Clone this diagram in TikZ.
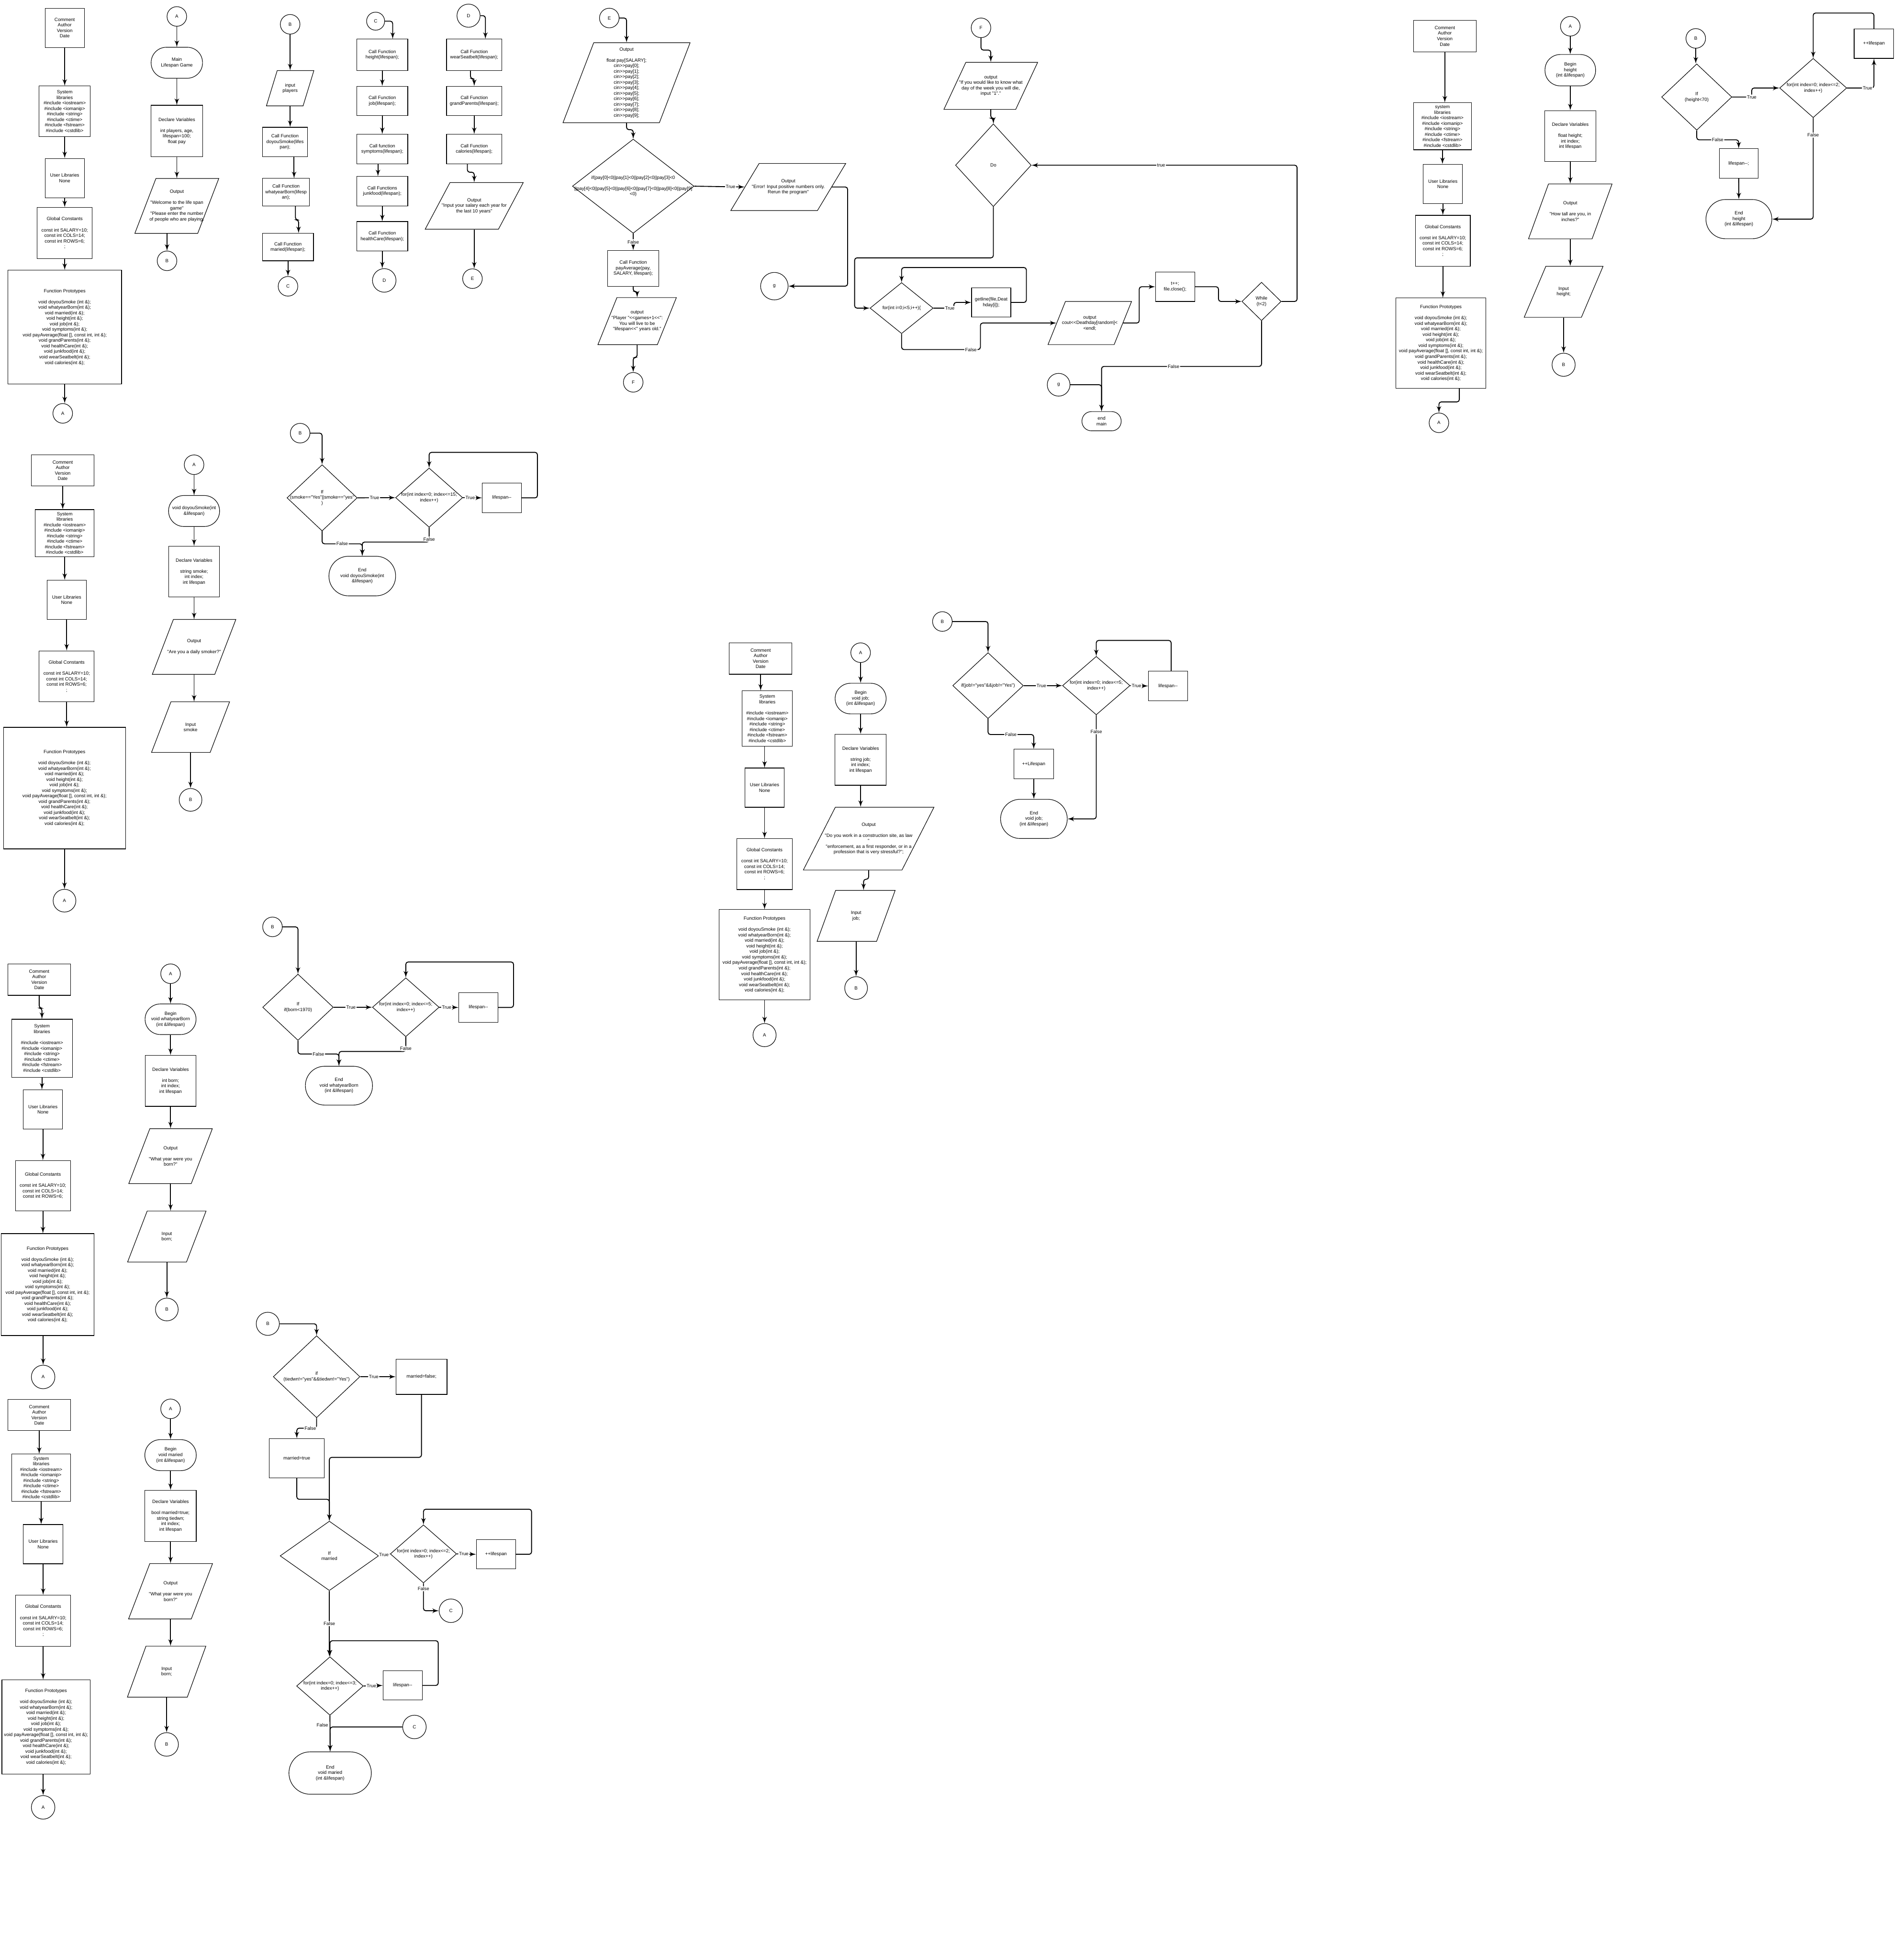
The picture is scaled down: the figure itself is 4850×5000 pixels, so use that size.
\documentclass[tikz,border=0pt]{standalone}
\usepackage{fontspec}
\newfontfamily\chartfont{Liberation Sans}
\usepackage{tikz}
\usetikzlibrary{shapes,arrows,calc}

\begin{document}
\begin{tikzpicture}[x=0.01cm, y=-0.01cm, font=\chartfont\fontsize{3.4}{4}\selectfont]
\tikzstyle{block} = [rectangle, draw, line width=0.4pt, align=center, inner sep=1pt]
\tikzstyle{term} = [rectangle, draw, line width=0.4pt, align=center, inner sep=1pt, rounded corners=0.39cm]
\tikzstyle{conn} = [circle, draw, line width=0.4pt, inner sep=0pt, minimum size=0.5cm]
\tikzstyle{io} = [trapezium, draw, line width=0.4pt, inner sep=0pt, trapezium stretches body]
\tikzstyle{decision} = [diamond, draw, line width=0.4pt, inner sep=0pt]
\tikzstyle{txt} = [align=center]
\tikzstyle{line} = [draw, -latex', line width=0.65pt, rounded corners=0.06cm]
\tikzstyle{tag} = [fill=white, inner sep=0.6pt]

\path [use as bounding box, fill=white] (0,0) rectangle (4850,5000);

\node [block, minimum width=1cm, minimum height=1cm] (cm1) at (165,71) {Comment\\Author\\Version\\Date};
\node [block, minimum width=1.3cm, minimum height=1.29cm, node distance=2.13cm, below of=cm1] (sys1) {System\\libraries\\\#include <iostream>\\\#include <iomanip>\\\#include <string>\\\#include <ctime>\\\#include <fstream>\\\#include <cstdlib>};
\node [block, minimum width=1cm, minimum height=1cm, node distance=1.7cm, below of=sys1] (usr1) {User Libraries\\None};
\node [block, minimum width=1.4cm, minimum height=1.3cm, node distance=1.4cm, below of=usr1] (gc1) {Global Constants\\[4pt]const int SALARY=10;\\const int COLS=14;\\const int ROWS=6;\\;};
\node [block, minimum width=2.9cm, minimum height=2.9cm, node distance=2.4cm, below of=gc1] (fp1) {Function Prototypes\\[4pt]void doyouSmoke (int \&);\\void whatyearBorn(int \&);\\void married(int \&);\\void height(int \&);\\void job(int \&);\\void symptoms(int \&);\\void payAverage(float [], const int, int \&);\\void grandParents(int \&);\\void healthCare(int \&);\\void junkfood(int \&);\\void wearSeatbelt(int \&);\\void calories(int \&);};
\node [conn, node distance=2.2cm, below of=fp1, xshift=-0.05cm] (a1) {A};

\node [conn] (a1b) at (451,42) {A};
\node [term, minimum width=1.31cm, minimum height=0.79cm, node distance=1.18cm, below of=a1b] (main1) {Main\\Lifespan Game};
\node [block, minimum width=1.31cm, minimum height=1.31cm, node distance=1.74cm, below of=main1] (dv1) {Declare Variables\\[4pt]int players, age,\\lifespan=100;\\float pay};
\node [io, trapezium left angle=69, trapezium right angle=111, minimum width=2.14cm, inner ysep=0.7cm, node distance=1.91cm, below of=dv1, label={[txt]center:{Output\\[4pt]"Welcome to the life span\\game"\\"Please enter the number\\of people who are playing.}}] (out1) {};
\node [conn, node distance=1.4cm, below of=out1, xshift=-0.25cm] (b1) {B};

\path [line] (cm1) -- (sys1);
\path [line] (sys1) -- (usr1);
\path [line] (usr1) -- (gc1);
\path [line] (gc1) -- (fp1);
\path [line] (fp1.south) -- (fp1.south |- a1.north);
\path [line] (a1b) -- (main1);
\path [line] (main1) -- (dv1);
\path [line] (dv1) -- (out1);
\path [line] (b1 |- out1.south) -- (b1);

\node [conn] (b2) at (740,62) {B};
\node [io, trapezium left angle=73, trapezium right angle=107, minimum width=1.21cm, inner ysep=0.45cm, node distance=1.63cm, below of=b2, label={[txt]center:{input\\players}}] (inp2) {};
\node [block, minimum width=1.15cm, minimum height=0.75cm, node distance=1.37cm, below of=inp2, xshift=-0.13cm] (sm2) {Call Function\\doyouSmoke(lifes\\pan);};
\node [block, minimum width=1.2cm, minimum height=0.7cm, node distance=1.28cm, below of=sm2, xshift=0.025cm] (wy2) {Call Function\\whatyearBorn(lifesp\\an);};
\node [block, minimum width=1.3cm, minimum height=0.7cm, node distance=1.4cm, below of=wy2, xshift=0.05cm] (mar2) {Call Function\\maried(lifespan);};
\node [conn, node distance=1cm, below of=mar2] (c2) {C};

\path [line] (b2) -- (inp2);
\path [line] (inp2) -- (inp2 |- sm2.north);
\path [line] ([xshift=0.23cm]sm2.south) -- ([xshift=0.23cm]sm2.south |- wy2.north);
\path [line] ([xshift=0.24cm]wy2.south) -- ++(0,35) -| ([xshift=0.27cm]mar2.north);
\path [line] (mar2) -- (c2);

\node [conn, minimum size=0.46cm] (c2b) at (958,54) {C};
\node [block, minimum width=1.3cm, minimum height=0.8cm] (ht2) at (975,140) {Call Function\\height(lifespan);};
\node [block, minimum width=1.3cm, minimum height=0.75cm, node distance=1.175cm, below of=ht2] (job2) {Call Function\\job(lifespan);};
\node [block, minimum width=1.3cm, minimum height=0.75cm, node distance=1.225cm, below of=job2] (sym2) {Call function\\symptoms(lifespan);};
\node [block, minimum width=1.3cm, minimum height=0.75cm, node distance=1.075cm, below of=sym2] (jf2) {Call Functions\\junkfood(lifespan);};
\node [block, minimum width=1.3cm, minimum height=0.75cm, node distance=1.15cm, below of=jf2] (hc2) {Call Function\\healthCare(lifespan);};
\node [conn, minimum size=0.6cm, node distance=1.125cm, below of=hc2, xshift=0.05cm] (d2) {D};

\path [line] (c2b.east) -| ([xshift=0.265cm]ht2.north);
\path [line] (ht2) -- (job2);
\path [line] (job2) -- (sym2);
\path [line] ([xshift=-0.11cm]sym2.south) -- ([xshift=-0.11cm]sym2.south |- jf2.north);
\path [line] (jf2) -- (hc2);
\path [line] (hc2) -- (hc2 |- d2.north);

\node [conn, minimum size=0.59cm] (d2b) at (1195,40) {D};
\node [block, minimum width=1.41cm, minimum height=0.8cm] (ws2) at (1209.5,140) {Call Function\\wearSeatbelt(lifespan);};
\node [block, minimum width=1.41cm, minimum height=0.75cm, node distance=1.175cm, below of=ws2] (gp2) {Call Function\\grandParents(lifespan);};
\node [block, minimum width=1.41cm, minimum height=0.75cm, node distance=1.225cm, below of=gp2] (cal2) {Call Function\\calories(lifespan);};
\node [io, trapezium left angle=62, trapezium right angle=118, minimum width=2.5cm, inner ysep=0.595cm, node distance=1.45cm, below of=cal2, label={[txt]center:{Output\\"Input your salary each year for\\the last 10 years"}}] (out2) {};
\node [conn, node distance=1.855cm, below of=out2, xshift=-0.045cm] (e2) {E};

\path [line] (d2b.east) -| ([xshift=0.285cm]ws2.north);
\path [line] ([xshift=-0.095cm]ws2.south) -- ++(0,20) -| (gp2.north);
\path [line] (gp2) -- (cal2);
\path [line] ([xshift=-0.175cm]cal2.south) -- ++(0,21) -| (out2.north);
\path [line] (out2) -- (out2 |- e2.north);

\node [conn] (e3) at (1554,46) {E};
\node [io, trapezium left angle=69, trapezium right angle=111, minimum width=3.24cm, inner ysep=1.02cm, label={[txt]center:{Output\\[4pt]float pay[SALARY];\\cin>>pay[0];\\cin>>pay[1];\\cin>>pay[2];\\cin>>pay[3];\\cin>>pay[4];\\cin>>pay[5];\\cin>>pay[6];\\cin>>pay[7];\\cin>>pay[8];\\cin>>pay[9];}}] (pay3) at (1598,211) {};
\node [decision, minimum width=3.1cm, minimum height=2.4cm, label={[txt]center:{if(pay[0]<0||pay[1]<0||pay[2]<0||pay[3]<0\\[4pt]||pay[4]<0||pay[5]<0||pay[6]<0||pay[7]<0||pay[8]<0||pay[9]\\<0)}}] (ifp3) at (1615,475) {};
\node [io, trapezium left angle=59, trapezium right angle=121, minimum width=2.93cm, inner ysep=0.6cm, label={[txt]center:{Output\\"Error! Input positive numbers only.\\Rerun the program"}}] (err3) at (2010.5,477) {};
\node [conn, minimum size=0.7cm] (g3) at (1975,730) {g};
\node [block, minimum width=1.3cm, minimum height=0.91cm, node distance=2.095cm, below of=ifp3] (pa3) {Call Function\\payAverage(pay,\\SALARY, lifespan);};
\node [io, trapezium left angle=68, trapezium right angle=112, minimum width=2cm, inner ysep=0.6cm, node distance=1.345cm, below of=pa3, xshift=0.1cm, label={[txt]center:{output\\"Player "<<games+1<<":\\You will live to be\\"lifespan<<" years old."}}] (pl3) {};
\node [conn, node distance=1.56cm, below of=pl3, xshift=-0.1cm] (f3) {F};

\path [line] (e3.east) -| (pay3.north);
\path [line] (pay3.south) -- ++(0,17) -| (ifp3.north);
\path [line] (ifp3.east) -- node [tag, pos=0.72] {True} (err3.west);
\path [line] (err3.east) -- ++(40,0) |- (g3.east);
\path [line] (ifp3.south) -- node [tag] {False} (pa3.north);
\path [line] (pa3.south) -- ++(0,13) -| (pl3.north);
\path [line] (pl3.south) -- ++(0,32) -| (f3.north);

\node [conn] (f4) at (2502,71) {F};
\node [io, trapezium left angle=65, trapezium right angle=115, minimum width=2.39cm, inner ysep=0.6cm, label={[txt]center:{output\\"If you would like to know what\\day of the week you will die,\\input "1"."}}] (ow4) at (2527,219) {};
\node [decision, minimum width=1.93cm, minimum height=2.11cm, label={[txt]center:{Do}}] (do4) at (2533.5,421.5) {};
\node [decision, minimum width=1.61cm, minimum height=1.3cm, label={[txt]center:{for(int i=0;i<5;i++)\{}}] (for4) at (2299.5,786) {};
\node [block, minimum width=1cm, minimum height=0.75cm] (gl4) at (2528,771.5) {getline(file,Deat\\hday[i]);};
\node [io, trapezium left angle=68, trapezium right angle=112, minimum width=2.13cm, inner ysep=0.55cm, label={[txt]center:{output\\cout<<Deathday[random]<\\<endl;}}] (co4) at (2779.5,824) {};
\node [block, minimum width=1cm, minimum height=0.75cm] (tp4) at (2997,731.5) {t++;\\file.close();};
\node [decision, minimum width=1cm, minimum height=0.98cm, label={[txt]center:{While\\(t<2)}}] (wh4) at (3217.5,769) {};
\node [conn, minimum size=0.58cm] (g4) at (2700,981.5) {g};
\node [term, minimum width=1cm, minimum height=0.49cm, rounded corners=0.24cm] (em4) at (2809.5,1074.5) {end\\main};

\path [line] (f4.south) -- ++(0,31) -| (ow4.north);
\path [line] (ow4.south) -- ++(0,22) -| (do4.north);
\path [line] (do4.south) -- ++(0,130) -| ([xshift=-0.385cm]for4.west) -- (for4.west);
\path [line] (for4.east) -- node [tag, pos=0.8] {True} ++(52,0) |- (gl4.west);
\path [line] (gl4.east) -- ++(39,0) -- ++(0,-89) -| (for4.north);
\path [line] (for4.south) |- node [tag, pos=0.94] {False} ++(201,40) |- (co4.west);
\path [line] (co4.east) -- ++(41,0) |- (tp4.west);
\path [line] (tp4.east) -- ++(60,0) |- (wh4.west);
\path [line] (wh4.east) -- ++(40,0) |- node [tag, pos=0.756] {true} (do4.east);
\path [line] (wh4.south) -- ++(0,116) -| node [tag, pos=0.275] {False} (em4.north);
\path [line] (g4.east) -| (em4.north);

\node [block, minimum width=1.6cm, minimum height=0.8cm] (cm5) at (3685,92) {Comment\\Author\\Version\\Date};
\node [block, minimum width=1.48cm, minimum height=1.2cm, node distance=2.3cm, below of=cm5, xshift=-0.06cm] (sys5) {system\\libraries\\\#include <iostream>\\\#include <iomanip>\\\#include <string>\\\#include <ctime>\\\#include <fstream>\\\#include <cstdlib>};
\node [block, minimum width=1cm, minimum height=1cm, node distance=1.47cm, below of=sys5, xshift=0.01cm] (usr5) {User Libraries\\None};
\node [block, minimum width=1.4cm, minimum height=1.3cm, node distance=1.45cm, below of=usr5] (gc5) {Global Constants\\[4pt]const int SALARY=10;\\const int COLS=14;\\const int ROWS=6;\\;};
\node [block, minimum width=2.3cm, minimum height=2.3cm, node distance=2.61cm, below of=gc5, xshift=-0.05cm] (fp5) {Function Prototypes\\[4pt]void doyouSmoke (int \&);\\void whatyearBorn(int \&);\\void married(int \&);\\void height(int \&);\\void job(int \&);\\void symptoms(int \&);\\void payAverage(float [], const int, int \&);\\void grandParents(int \&);\\void healthCare(int \&);\\void junkfood(int \&);\\void wearSeatbelt(int \&);\\void calories(int \&);};
\node [conn, node distance=2.03cm, below of=fp5, xshift=-0.05cm] (a5) {A};

\node [conn] (a5b) at (4005,67) {A};
\node [term, minimum width=1.29cm, minimum height=0.8cm, node distance=1.12cm, below of=a5b] (bh5) {Begin\\height\\(int \&lifespan)};
\node [block, minimum width=1.3cm, minimum height=1.3cm, node distance=1.68cm, below of=bh5] (dv5) {Declare Variables\\[4pt]float height;\\int index;\\int lifespan};
\node [io, trapezium left angle=70, trapezium right angle=110, minimum width=2.13cm, inner ysep=0.7cm, node distance=1.92cm, below of=dv5, label={[txt]center:{Output\\[4pt]"How tall are you, in\\inches?"}}] (out5) {};
\node [io, trapezium left angle=67, trapezium right angle=113, minimum width=2.01cm, inner ysep=0.65cm, node distance=2.05cm, below of=out5, xshift=-0.17cm, label={[txt]center:{Input\\height;}}] (inp5) {};
\node [conn, minimum size=0.59cm, node distance=1.86cm, below of=inp5] (b5) {B};

\node [conn] (b5b) at (4325,98) {B};
\node [decision, minimum width=1.79cm, minimum height=1.69cm, label={[txt]center:{If\\(height<70)}}] (if5) at (4327.5,247.5) {};
\node [decision, minimum width=1.71cm, minimum height=1.51cm, label={[txt]center:{for(int index=0; index<=2;\\index++)}}] (for5) at (4624.5,224.5) {};
\node [block, minimum width=1.01cm, minimum height=0.75cm] (pl5) at (4779.5,111.5) {++lifespan};
\node [block, minimum width=0.99cm, minimum height=0.75cm] (lm5) at (4434.5,417) {lifespan-{}-;};
\node [term, minimum width=1.68cm, minimum height=1cm, rounded corners=0.5cm] (end5) at (4435,559) {End\\height\\(int \&lifespan)};

\path [line] (cm5) -- (cm5 |- sys5.north);
\path [line] (sys5) -- (sys5 |- usr5.north);
\path [line] (usr5) -- (gc5);
\path [line] (gc5) -- (gc5 |- fp5.north);
\path [line] ([xshift=0.47cm]fp5.south) -- ++(0,34) -| (a5.north);
\path [line] (a5b) -- (bh5);
\path [line] (bh5) -- (dv5);
\path [line] (dv5) -- (out5);
\path [line] (out5) -- (out5 |- inp5.north);
\path [line] (inp5) -- (b5);
\path [line] (b5b) -- (b5b |- if5.north);
\path [line] (if5.east) -- ++(50,0) node [tag] {True} |- (for5.west);
\path [line] (for5.east) -| node [tag, pos=0.38] {True} (pl5.south);
\path [line] (pl5.north) -- ++(0,-40) -| (for5.north);
\path [line] (if5.south) -- ++(0,24) -| node [tag, pos=0.25] {False} (lm5.north);
\path [line] (lm5) -- (end5);
\path [line] (for5.south) |- node [tag, pos=0.085] {False} (end5.east);

\node [block, minimum width=1.6cm, minimum height=0.8cm] (cm6) at (160,1200) {Comment\\Author\\Version\\Date};
\node [block, minimum width=1.5cm, minimum height=1.2cm, node distance=1.6cm, below of=cm6, xshift=0.05cm] (sys6) {System\\libraries\\\#include <iostream>\\\#include <iomanip>\\\#include <string>\\\#include <ctime>\\\#include <fstream>\\\#include <cstdlib>};
\node [block, minimum width=1cm, minimum height=1cm, node distance=1.7cm, below of=sys6, xshift=0.05cm] (usr6) {User Libraries\\None};
\node [block, minimum width=1.4cm, minimum height=1.3cm, node distance=1.95cm, below of=usr6] (gc6) {Global Constants\\[4pt]const int SALARY=10;\\const int COLS=14;\\const int ROWS=6;\\;};
\node [block, minimum width=3.11cm, minimum height=3.1cm, node distance=2.85cm, below of=gc6, xshift=-0.055cm] (fp6) {Function Prototypes\\[4pt]void doyouSmoke (int \&);\\void whatyearBorn(int \&);\\void married(int \&);\\void height(int \&);\\void job(int \&);\\void symptoms(int \&);\\void payAverage(float [], const int, int \&);\\void grandParents(int \&);\\void healthCare(int \&);\\void junkfood(int \&);\\void wearSeatbelt(int \&);\\void calories(int \&);};
\node [conn, minimum size=0.58cm, node distance=2.87cm, below of=fp6] (a6) {A};

\node [conn] (a6b) at (495,1185.5) {A};
\node [term, minimum width=1.3cm, minimum height=0.79cm, node distance=1.18cm, below of=a6b] (ds6) {void doyouSmoke(int\\\&lifespan)};
\node [block, minimum width=1.3cm, minimum height=1.3cm, node distance=1.545cm, below of=ds6] (dv6) {Declare Variables\\[4pt]string smoke;\\int index;\\int lifespan};
\node [io, trapezium left angle=69, trapezium right angle=111, minimum width=2.13cm, inner ysep=0.7cm, node distance=1.92cm, below of=dv6, label={[txt]center:{Output\\[4pt]"Are you a daily smoker?"}}] (out6) {};
\node [io, trapezium left angle=69, trapezium right angle=111, minimum width=1.99cm, inner ysep=0.645cm, node distance=2.045cm, below of=out6, xshift=-0.09cm, label={[txt]center:{Input\\smoke}}] (inp6) {};
\node [conn, minimum size=0.58cm, node distance=1.855cm, below of=inp6] (b6) {B};

\node [conn] (b6b) at (765.5,1105) {B};
\node [decision, minimum width=1.79cm, minimum height=1.69cm, label={[txt]center:{If\\(smoke=="Yes"||smoke=="yes"\\)}}] (if6) at (821.5,1270) {};
\node [decision, minimum width=1.71cm, minimum height=1.51cm, label={[txt]center:{for(int index=0; index<=15;\\index++)}}] (for6) at (1094.5,1269.5) {};
\node [block, minimum width=1cm, minimum height=0.75cm] (lm6) at (1280,1270) {lifespan-{}-};
\node [term, minimum width=1.7cm, minimum height=1.01cm, rounded corners=0.5cm] (end6) at (924,1469.5) {End\\void doyouSmoke(int\\\&lifespan)};

\path [line] (cm6) -- (cm6 |- sys6.north);
\path [line] (sys6) -- (sys6 |- usr6.north);
\path [line] (usr6) -- (gc6);
\path [line] (gc6) -- (gc6 |- fp6.north);
\path [line] (fp6) -- (fp6 |- a6.north);
\path [line] (a6b) -- (ds6);
\path [line] (ds6) -- (dv6);
\path [line] (dv6) -- (out6);
\path [line] (out6) -- (out6 |- inp6.north);
\path [line] (inp6) -- (inp6 |- b6.north);
\path [line] (b6b.east) -| (if6.north);
\path [line] (if6.east) -- node [tag, pos=0.45] {True} (for6.west);
\path [line] (for6.east) -- node [tag, pos=0.38] {True} (lm6.west);
\path [line] (lm6.east) -- ++(40,0) -- ++(0,-116) -| (for6.north);
\path [line] (if6.south) -- ++(0,32) -| node [tag, pos=0.25] {False} (end6.north);
\path [line] (for6.south) -- node [tag, pos=0.8] {False} ++(0,37) -| (end6.north);

\node [block, minimum width=1.6cm, minimum height=0.8cm] (cm7) at (1940,1680) {Comment\\Author\\Version\\Date};
\node [block, minimum width=1.28cm, minimum height=1.41cm, node distance=1.53cm, below of=cm7, xshift=0.17cm] (sys7) {System\\libraries\\[4pt]\#include <iostream>\\\#include <iomanip>\\\#include <string>\\\#include <ctime>\\\#include <fstream>\\\#include <cstdlib>};
\node [block, minimum width=1cm, minimum height=1cm, node distance=1.76cm, below of=sys7, xshift=-0.07cm] (usr7) {User Libraries\\None};
\node [block, minimum width=1.41cm, minimum height=1.3cm, node distance=1.95cm, below of=usr7] (gc7) {Global Constants\\[4pt]const int SALARY=10;\\const int COLS=14;\\const int ROWS=6;\\;};
\node [block, minimum width=2.31cm, minimum height=2.3cm, node distance=2.31cm, below of=gc7] (fp7) {Function Prototypes\\[4pt]void doyouSmoke (int \&);\\void whatyearBorn(int \&);\\void married(int \&);\\void height(int \&);\\void job(int \&);\\void symptoms(int \&);\\void payAverage(float [], const int, int \&);\\void grandParents(int \&);\\void healthCare(int \&);\\void junkfood(int \&);\\void wearSeatbelt(int \&);\\void calories(int \&);};
\node [conn, minimum size=0.59cm, node distance=2.05cm, below of=fp7] (a7) {A};

\node [conn] (a7b) at (2195,1665) {A};
\node [term, minimum width=1.3cm, minimum height=0.78cm, node distance=1.17cm, below of=a7b] (bj7) {Begin\\void job;\\(int \&lifespan)};
\node [block, minimum width=1.3cm, minimum height=1.3cm, node distance=1.56cm, below of=bj7] (dv7) {Declare Variables\\[4pt]string job;\\int index;\\int lifespan};
\node [io, trapezium left angle=63, trapezium right angle=117, minimum width=3.33cm, inner ysep=0.8cm, node distance=2.01cm, below of=dv7, xshift=0.205cm, label={[txt]center:{Output\\[4pt]"Do you work in a construction site, as law\\"\\"enforcement, as a first responder, or in a\\profession that is very stressful?";}}] (out7) {};
\node [io, trapezium left angle=70, trapezium right angle=110, minimum width=1.99cm, inner ysep=0.65cm, node distance=1.97cm, below of=out7, xshift=-0.32cm, label={[txt]center:{Input\\job;}}] (inp7) {};
\node [conn, minimum size=0.58cm, node distance=1.84cm, below of=inp7] (b7) {B};

\node [conn] (b7b) at (2403.5,1585.5) {B};
\node [decision, minimum width=1.8cm, minimum height=1.68cm, label={[txt]center:{if(job!="yes"\&\&job!="Yes")}}] (if7) at (2520,1749) {};
\node [decision, minimum width=1.72cm, minimum height=1.49cm, label={[txt]center:{for(int index=0; index<=5;\\index++)}}] (for7) at (2796,1749) {};
\node [block, minimum width=1cm, minimum height=0.75cm] (lm7) at (2979,1750) {lifespan-{}-};
\node [block, minimum width=1.01cm, minimum height=0.75cm] (pl7) at (2636.5,1949) {++Lifespan};
\node [term, minimum width=1.7cm, minimum height=1cm, rounded corners=0.5cm] (end7) at (2637,2089) {End\\void job;\\(int \&lifespan)};

\path [line] (cm7) -- (cm7 |- sys7.north);
\path [line] (usr7 |- sys7.south) -- (usr7);
\path [line] (usr7) -- (gc7);
\path [line] (gc7) -- (fp7);
\path [line] (fp7) -- (fp7 |- a7.north);
\path [line] (a7b) -- (bj7);
\path [line] (bj7) -- (dv7);
\path [line] (dv7) -- (dv7 |- out7.north);
\path [line] (out7.south) -- ++(0,23) -| ([xshift=0.19cm]inp7.north);
\path [line] (inp7) -- (b7);
\path [line] (b7b.east) -| (if7.north);
\path [line] (if7.east) -- node [tag, pos=0.46] {True} (for7.west);
\path [line] (for7.east) -- node [tag, pos=0.35] {True} (lm7.west);
\path [line] ([xshift=0.08cm]lm7.north) -- ++(0,-78) -| (for7.north);
\path [line] (if7.south) -- ++(0,40) -| node [tag, pos=0.25] {False} (pl7.north);
\path [line] (pl7) -- (end7);
\path [line] (for7.south) |- node [tag, pos=0.08] {False} (end7.east);

\node [block, minimum width=1.6cm, minimum height=0.8cm] (cm8) at (100,2499) {Comment\\Author\\Version\\Date};
\node [block, minimum width=1.55cm, minimum height=1.48cm, node distance=1.75cm, below of=cm8, xshift=0.07cm] (sys8) {System\\libraries\\[4pt]\#include <iostream>\\\#include <iomanip>\\\#include <string>\\\#include <ctime>\\\#include <fstream>\\\#include <cstdlib>};
\node [block, minimum width=1cm, minimum height=1cm, node distance=1.56cm, below of=sys8, xshift=0.025cm] (usr8) {User Libraries\\None};
\node [block, minimum width=1.4cm, minimum height=1.29cm, node distance=1.945cm, below of=usr8] (gc8) {Global Constants\\[4pt]const int SALARY=10;\\const int COLS=14;\\const int ROWS=6;};
\node [block, minimum width=2.37cm, minimum height=2.6cm, node distance=2.52cm, below of=gc8, xshift=0.12cm] (fp8) {Function Prototypes\\[4pt]void doyouSmoke (int \&);\\void whatyearBorn(int \&);\\void married(int \&);\\void height(int \&);\\void job(int \&);\\void symptoms(int \&);\\void payAverage(float [], const int, int \&);\\void grandParents(int \&);\\void healthCare(int \&);\\void junkfood(int \&);\\void wearSeatbelt(int \&);\\void calories(int \&);};
\node [conn, minimum size=0.6cm, node distance=2.355cm, below of=fp8, xshift=-0.115cm] (a8) {A};

\node [conn] (a8b) at (435,2484) {A};
\node [term, minimum width=1.3cm, minimum height=0.78cm, node distance=1.16cm, below of=a8b] (bw8) {Begin\\void whatyearBorn\\(int \&lifespan)};
\node [block, minimum width=1.3cm, minimum height=1.3cm, node distance=1.57cm, below of=bw8] (dv8) {Declare Variables\\[4pt]int born;\\int index;\\int lifespan};
\node [io, trapezium left angle=69, trapezium right angle=111, minimum width=2.13cm, inner ysep=0.7cm, node distance=1.92cm, below of=dv8, label={[txt]center:{Output\\[4pt]"What year were you\\born?"}}] (out8) {};
\node [io, trapezium left angle=69, trapezium right angle=111, minimum width=2cm, inner ysep=0.65cm, node distance=2.05cm, below of=out8, xshift=-0.095cm, label={[txt]center:{Input\\born;}}] (inp8) {};
\node [conn, minimum size=0.58cm, node distance=1.86cm, below of=inp8] (b8) {B};

\node [conn] (b8b) at (695,2364.5) {B};
\node [decision, minimum width=1.8cm, minimum height=1.69cm, label={[txt]center:{If\\if(born<1970)}}] (if8) at (760,2569.5) {};
\node [decision, minimum width=1.7cm, minimum height=1.5cm, label={[txt]center:{for(int index=0; index<=5;\\index++)}}] (for8) at (1035,2569.5) {};
\node [block, minimum width=1cm, minimum height=0.75cm] (lm8) at (1220,2570) {lifespan-{}-};
\node [term, minimum width=1.71cm, minimum height=0.99cm, rounded corners=0.49cm] (end8) at (864.5,2769.5) {End\\void whatyearBorn\\(int \&lifespan)};

\path [line] (cm8.south) -- ++(0,32) -| (sys8.north);
\path [line] (sys8) -- (sys8 |- usr8.north);
\path [line] (usr8) -- (gc8);
\path [line] (gc8) -- (gc8 |- fp8.north);
\path [line] (a8 |- fp8.south) -- (a8);
\path [line] (a8b) -- (bw8);
\path [line] (bw8) -- (dv8);
\path [line] (dv8) -- (out8);
\path [line] (out8) -- (out8 |- inp8.north);
\path [line] (inp8) -- (b8);
\path [line] (b8b.east) -| (if8.north);
\path [line] (if8.east) -- node [tag, pos=0.45] {True} (for8.west);
\path [line] (for8.east) -- node [tag, pos=0.38] {True} (lm8.west);
\path [line] (lm8.east) -- ++(39,0) -- ++(0,-116) -| (for8.north);
\path [line] (if8.south) -- ++(0,34) -| node [tag, pos=0.25] {False} (end8.north);
\path [line] (for8.south) -- node [tag, pos=0.8] {False} ++(0,37) -| (end8.north);

\node [block, minimum width=1.6cm, minimum height=0.8cm] (cm9) at (100,3609.5) {Comment\\Author\\Version\\Date};
\node [block, minimum width=1.5cm, minimum height=1.2cm, node distance=1.6cm, below of=cm9, xshift=0.05cm] (sys9) {System\\libraries\\\#include <iostream>\\\#include <iomanip>\\\#include <string>\\\#include <ctime>\\\#include <fstream>\\\#include <cstdlib>};
\node [block, minimum width=1.01cm, minimum height=1cm, node distance=1.695cm, below of=sys9, xshift=0.05cm] (usr9) {User Libraries\\None};
\node [block, minimum width=1.41cm, minimum height=1.3cm, node distance=1.95cm, below of=usr9] (gc9) {Global Constants\\[4pt]const int SALARY=10;\\const int COLS=14;\\const int ROWS=6;\\;};
\node [block, minimum width=2.25cm, minimum height=2.4cm, node distance=2.71cm, below of=gc9, xshift=0.075cm] (fp9) {Function Prototypes\\[4pt]void doyouSmoke (int \&);\\void whatyearBorn(int \&);\\void married(int \&);\\void height(int \&);\\void job(int \&);\\void symptoms(int \&);\\void payAverage(float [], const int, int \&);\\void grandParents(int \&);\\void healthCare(int \&);\\void junkfood(int \&);\\void wearSeatbelt(int \&);\\void calories(int \&);};
\node [conn, minimum size=0.6cm, node distance=2.05cm, below of=fp9, xshift=-0.075cm] (a9) {A};

\node [conn] (a9b) at (435,3594) {A};
\node [term, minimum width=1.31cm, minimum height=0.79cm, node distance=1.18cm, below of=a9b] (bm9) {Begin\\void maried\\(int \&lifespan)};
\node [block, minimum width=1.31cm, minimum height=1.31cm, node distance=1.55cm, below of=bm9] (dv9) {Declare Variables\\[4pt]bool married=true;\\string tiedwn;\\int index;\\int lifespan};
\node [io, trapezium left angle=69, trapezium right angle=111, minimum width=2.14cm, inner ysep=0.705cm, node distance=1.92cm, below of=dv9, label={[txt]center:{Output\\[4pt]"What year were you\\born?"}}] (out9) {};
\node [io, trapezium left angle=70, trapezium right angle=110, minimum width=2cm, inner ysep=0.65cm, node distance=2.05cm, below of=out9, xshift=-0.1cm, label={[txt]center:{Input\\born;}}] (inp9) {};
\node [conn, minimum size=0.6cm, node distance=1.855cm, below of=inp9] (b9) {B};

\node [conn, minimum size=0.59cm] (b9b) at (683,3377) {B};
\node [decision, minimum width=2.21cm, minimum height=2.09cm, label={[txt]center:{if\\(tiedwn!="yes"\&\&tiedwn!="Yes")}}] (if9) at (807.5,3512) {};
\node [block, minimum width=1.3cm, minimum height=0.9cm] (mf9) at (1075,3512) {married=false;};
\node [block, minimum width=1.4cm, minimum height=1cm] (mt9) at (757,3720) {married=true};
\node [decision, minimum width=2.51cm, minimum height=1.77cm, label={[txt]center:{If\\married}}] (im9) at (840,3969) {};
\node [decision, minimum width=1.69cm, minimum height=1.48cm, label={[txt]center:{for(int index=0; index<=2;\\index++)}}] (fa9) at (1080,3964) {};
\node [block, minimum width=1cm, minimum height=0.75cm] (pl9) at (1265,3965) {++lifespan};
\node [conn, minimum size=0.6cm] (c9a) at (1150,4109) {C};
\node [decision, minimum width=1.7cm, minimum height=1.49cm, label={[txt]center:{for(int index=0; index<=3;\\index++)}}] (fb9) at (841.5,4301) {};
\node [block, minimum width=1cm, minimum height=0.74cm] (lm9) at (1027,4299.5) {lifespan-{}-};
\node [conn, minimum size=0.6cm] (c9b) at (1057,4405.5) {C};
\node [term, minimum width=2.1cm, minimum height=1.08cm, rounded corners=0.54cm] (end9) at (842,4523) {End\\void maried\\(int \&lifespan)};

\path [line] (cm9) -- (cm9 |- sys9.north);
\path [line] (sys9) -- (sys9 |- usr9.north);
\path [line] (usr9) -- (gc9);
\path [line] (gc9) -- (gc9 |- fp9.north);
\path [line] (a9 |- fp9.south) -- (a9);
\path [line] (a9b) -- (bm9);
\path [line] (bm9) -- (dv9);
\path [line] (dv9) -- (out9);
\path [line] (out9) -- (out9 |- inp9.north);
\path [line] (inp9) -- (b9);
\path [line] (b9b.east) -| (if9.north);
\path [line] (if9.east) -- node [tag, pos=0.38] {True} (mf9.west);
\path [line] (if9.south) -- ++(0,26) -| node [tag, pos=0.16] {False} (mt9.north);
\path [line] (mf9.south) -- ++(0,160) -| (im9.north);
\path [line] (mt9.south) -- ++(0,54) -| (im9.north);
\path [line] (im9.east) -- node [tag, pos=0.45] {True} (fa9.west);
\path [line] (fa9.east) -- node [tag, pos=0.36] {True} (pl9.west);
\path [line] (pl9.east) -- ++(40,0) -- ++(0,-115) -| (fa9.north);
\path [line] (fa9.south) |- node [tag, pos=0.1] {False} (c9a.west);
\path [line] (im9.south) -- node [tag] {False} (im9.south |- fb9.north);
\path [line] (lm9.east) -- ++(40,0) -- ++(0,-114) -| (fb9.north);
\path [line] (fb9.east) -- node [tag, pos=0.41] {True} (lm9.west);
\path [line] (fb9.south) -- node [pos=0.26, left, inner sep=1pt] {False} (end9.north);
\path [line] (c9b.west) -| (end9.north);

\end{tikzpicture}
\end{document}
